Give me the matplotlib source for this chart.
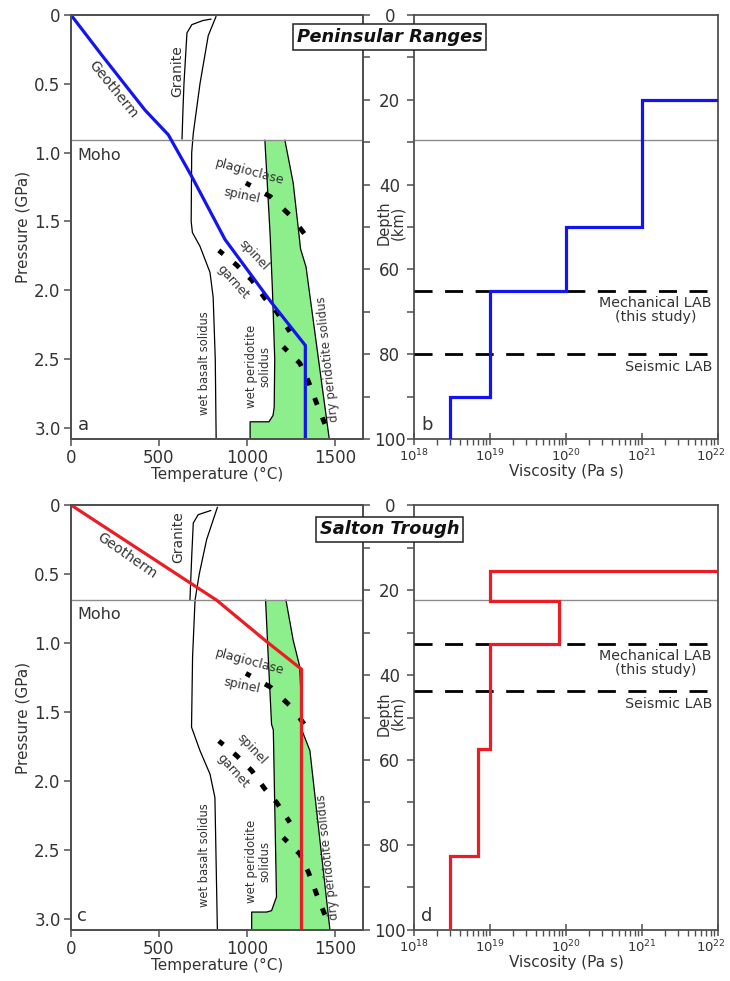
import numpy as np
import matplotlib
matplotlib.use("Agg")
import matplotlib.pyplot as plt
from matplotlib.ticker import FixedLocator, NullFormatter, LogLocator
from matplotlib.transforms import blended_transform_factory, ScaledTranslation

plt.rcParams['font.family'] = ['DejaVu Sans']

# ===================== AXES RANGES =====================
P_MAX = 3.08        # GPa at the bottom of the P-T panels
DEPTH_MAX = 100.0   # km, same bottom on the viscosity panels
T_MAX = 1660

pressure_ticks = [0, 0.5, 1.0, 1.5, 2.0, 2.5, 3.0]
pressure_labels = ["0", "0.5", "1.0", "1.5", "2.0", "2.5", "3.0"]
temp_ticks = [0, 500, 1000, 1500]
depth_ticks = [0, 20, 40, 60, 80, 100]
visc_ticks = [1e18, 1e19, 1e20, 1e21, 1e22]
visc_labels = [r"$10^{18}$", r"$10^{19}$", r"$10^{20}$", r"$10^{21}$", r"$10^{22}$"]

# ===================== PHASE BOUNDARIES (both regions) =====================
plag_sp_T = [994, 1134, 1253, 1339]
plag_sp_P = [1.22, 1.32, 1.465, 1.61]
sp_gt_upper_T = [840, 941, 1027, 1102, 1168, 1244]
sp_gt_upper_P = [1.71, 1.816, 1.925, 2.058, 2.155, 2.30]
sp_gt_lower_T = [1206, 1301, 1349, 1396, 1443]
sp_gt_lower_P = [2.41, 2.53, 2.66, 2.82, 2.97]

# ===================== PENINSULAR RANGES =====================
pr_geotherm_T = [0, 180, 420, 553, 685, 875, 1140, 1332, 1332]
pr_geotherm_P = [0, 0.30, 0.69, 0.87, 1.17, 1.63, 2.09, 2.40, 3.08]
pr_moho_P = 0.91
pr_granite_T = [631, 636, 642, 659, 687, 750, 795]
pr_granite_P = [0.90, 0.70, 0.50, 0.13, 0.07, 0.04, 0.03]
pr_basalt_T = [824, 780, 733, 695, 686, 683, 690, 733, 790, 808, 820, 825]
pr_basalt_P = [0.012, 0.15, 0.50, 0.86, 1.00, 1.50, 1.58, 1.68, 1.87, 2.05, 2.50, 3.08]
pr_wet_per_T = [1102, 1132, 1145, 1158, 1155, 1148, 1125, 1018, 1018]
pr_wet_per_P = [0.91, 1.60, 2.00, 2.50, 2.85, 2.91, 2.955, 2.955, 3.08]
pr_dry_per_T = [1216, 1263, 1292, 1305, 1336, 1468]
pr_dry_per_P = [0.91, 1.22, 1.55, 1.70, 1.83, 3.08]

pr_layer_bottoms = [20, 50, 65, 90, 100]
pr_viscosity = [1e22, 1e21, 1e20, 1e19, 3e18]
pr_mech_lab = 65
pr_seis_lab = 80

# ===================== SALTON TROUGH =====================
st_geotherm_T = [0, 828, 1112, 1310, 1310]
st_geotherm_P = [0, 0.69, 0.99, 1.19, 3.08]
st_moho_P = 0.69
st_granite_T = [676, 686, 695, 723, 794]
st_granite_P = [0.69, 0.375, 0.13, 0.07, 0.04]
st_basalt_T = [832, 771, 729, 705, 691, 685, 733, 790, 818, 832]
st_basalt_P = [0.017, 0.25, 0.50, 0.69, 1.10, 1.61, 1.78, 1.95, 2.12, 3.08]
st_wet_per_T = [1106, 1121, 1140, 1150, 1159, 1168, 1140, 1112, 1027, 1027]
st_wet_per_P = [0.69, 1.10, 1.59, 1.63, 2.24, 2.84, 2.94, 2.95, 2.95, 3.08]
st_dry_per_T = [1222, 1263, 1300, 1308, 1312, 1358, 1472]
st_dry_per_P = [0.69, 0.98, 1.17, 1.40, 1.63, 1.78, 3.08]

st_layer_bottoms = [15.6, 22.5, 32.6, 57.5, 82.5, 100]
st_viscosity = [1e22, 1e19, 8e19, 1e19, 7e18, 3e18]
st_mech_lab = 32.6
st_seis_lab = 43.8

# ===================== STYLE =====================
SPINE = "#505050"
TEXT = "#333333"
GREEN = "#8cef8c"
BLUE = "#1414f0"
RED = "#ec1c24"
MOHO = "#8c8c8c"
TICK_FS = 12
LABEL_FS = 10.5


def style_spines(ax):
    for s in ax.spines.values():
        s.set_color(SPINE)
        s.set_linewidth(1.3)


def draw_pt_panel(ax, geo_T, geo_P, geo_color, moho_P, gran_T, gran_P,
                  bas_T, bas_P, wet_T, wet_P, dry_T, dry_P, letter, txt):
    # peridotite melting field between wet and dry solidi
    poly_T = list(wet_T) + list(dry_T[::-1])
    poly_P = list(wet_P) + list(dry_P[::-1])
    ax.fill(poly_T, poly_P, color=GREEN, lw=0, zorder=1)
    ax.plot(wet_T, wet_P, color="k", lw=0.9, zorder=2)
    ax.plot(dry_T, dry_P, color="k", lw=0.9, zorder=2)

    ax.plot(gran_T, gran_P, color="k", lw=0.9, zorder=2)
    ax.plot(bas_T, bas_P, color="k", lw=0.9, zorder=2)

    dash_kw = dict(color="k", lw=3.5, solid_capstyle="butt", dash_capstyle="butt", zorder=3)
    ax.plot(plag_sp_T, plag_sp_P, linestyle=(0.5, (1.6, 3.4)), **dash_kw)
    ax.plot(sp_gt_upper_T, sp_gt_upper_P, linestyle=(0.3, (1.5, 2.8)), **dash_kw)
    ax.plot(sp_gt_lower_T, sp_gt_lower_P, linestyle=(0.3, (1.5, 2.8)), **dash_kw)

    ax.axhline(moho_P, color=MOHO, lw=1.0, zorder=2)
    ax.plot(geo_T, geo_P, color=geo_color, lw=2.3, zorder=4, solid_joinstyle="miter")

    ax.set_xlim(0, T_MAX)
    ax.set_ylim(P_MAX, 0)
    ax.set_xticks(temp_ticks)
    ax.set_xticklabels([str(t) for t in temp_ticks])
    ax.set_yticks(pressure_ticks)
    ax.set_yticklabels(pressure_labels)
    ax.tick_params(direction="out", length=5, width=1.1, color=SPINE,
                   labelsize=TICK_FS, labelcolor=TEXT, pad=2.5)
    ax.set_xlabel("Temperature (\u00b0C)", fontsize=LABEL_FS + 0.5, color=TEXT, labelpad=0)
    ax.set_ylabel("Pressure (GPa)", fontsize=LABEL_FS + 0.5, color=TEXT, labelpad=3)
    style_spines(ax)

    ax.text(0.022, 0.012, letter, transform=ax.transAxes, fontsize=13,
            color=TEXT, ha="left", va="bottom")
    for s, (T, P, rot, fs) in txt.items():
        ax.text(T, P, s.strip(), rotation=rot, fontsize=fs, color=TEXT, ha="center",
                va="center", rotation_mode="anchor", linespacing=0.95,
                multialignment="center", zorder=5)

    # depth scale on the right-hand spine
    tw = ax.twinx()
    tw.set_ylim(DEPTH_MAX, 0)
    tw.set_yticks(depth_ticks)
    tw.yaxis.set_minor_locator(FixedLocator(np.arange(10, 100, 20)))
    tw.tick_params(which="both", direction="out", length=5, width=1.1,
                   color=SPINE, labelright=False)
    style_spines(tw)


def draw_visc_panel(ax, bottoms, visc, color, moho_P, mech, seis, letter):
    xs, ys = [visc[0]], [bottoms[0]]
    for i in range(1, len(visc)):
        xs += [visc[i], visc[i]]
        ys += [bottoms[i - 1], bottoms[i]]

    ax.axhline(moho_P * DEPTH_MAX / P_MAX, color=MOHO, lw=1.0, zorder=2)
    for d in (mech, seis):
        ax.axhline(d, color="k", lw=2.0, linestyle=(0, (6.5, 4.5)), zorder=3)
    ax.plot(xs, ys, color=color, lw=2.3, zorder=4, solid_joinstyle="miter")

    mixed = blended_transform_factory(ax.transAxes, ax.transData)
    ax.text(0.98, mech + 1.3, "Mechanical LAB\n(this study)", transform=mixed,
            ha="right", va="top", multialignment="center", fontsize=10.3,
            color=TEXT, linespacing=1.0)
    ax.text(0.98, seis + 1.3, "Seismic LAB", transform=mixed,
            ha="right", va="top", fontsize=10.3, color=TEXT)

    ax.set_xscale("log")
    ax.set_xlim(visc_ticks[0], visc_ticks[-1])
    ax.set_ylim(DEPTH_MAX, 0)
    ax.set_xticks(visc_ticks)
    ax.set_xticklabels(visc_labels)
    ax.xaxis.set_minor_locator(LogLocator(base=10, subs=np.arange(2, 10)))
    ax.xaxis.set_minor_formatter(NullFormatter())
    ax.tick_params(axis="x", which="major", direction="inout", length=8, width=1.1,
                   color=SPINE, labelsize=9.5, labelcolor=TEXT, pad=2)
    ax.tick_params(axis="x", which="minor", direction="out", length=4, width=1.0, color=SPINE)
    ax.set_yticks(depth_ticks)
    ax.yaxis.set_minor_locator(FixedLocator(np.arange(10, 100, 20)))
    ax.tick_params(axis="y", which="both", direction="out", length=5, width=1.1,
                   color=SPINE, labelsize=TICK_FS, labelcolor=TEXT, pad=12.5)
    for lab in ax.get_yticklabels():
        lab.set_horizontalalignment("center")
    # nudge the last decade label so it stays inside the figure
    last = ax.get_xticklabels()[-1]
    last.set_transform(last.get_transform() + ScaledTranslation(-5 / 72, 0, fig.dpi_scale_trans))
    ax.set_xlabel("Viscosity (Pa s)", fontsize=LABEL_FS + 0.5, color=TEXT, labelpad=0)
    style_spines(ax)

    ax.text(0.023, 0.012, letter, transform=ax.transAxes, fontsize=13,
            color=TEXT, ha="left", va="bottom")
    ax.text(-0.076, 49, "Depth\n(km)", transform=mixed,
            rotation=90, ha="center", va="center", fontsize=LABEL_FS, color=TEXT,
            linespacing=0.9)


fig = plt.figure(figsize=(7.3, 9.81), dpi=100)
ax_a = fig.add_axes([0.0973, 0.5525, 0.4000, 0.4322])
ax_b = fig.add_axes([0.5671, 0.5525, 0.4164, 0.4322])
ax_c = fig.add_axes([0.0973, 0.0520, 0.4000, 0.4332])
ax_d = fig.add_axes([0.5671, 0.0520, 0.4164, 0.4332])

pr_text = {
    "Geotherm": (239, 0.54, -51, 10),
    "Granite": (602, 0.41, 90, 10),
    "plagioclase": (1017, 1.14, -15, 9),
    "spinel ": (970, 1.31, -12, 9),
    "spinel": (1036, 1.745, -47, 9),
    "garnet": (922, 1.94, -48, 9),
    "wet basalt solidus": (756, 2.53, 90, 8.3),
    "wet peridotite\nsolidus": (1064, 2.55, 90, 8.5),
    "dry peridotite solidus": (1462, 2.50, 96, 8.5),
}
st_text = {
    "Geotherm": (316, 0.37, -35, 10),
    "Granite": (610, 0.235, 90, 10),
    "plagioclase": (1017, 1.14, -15, 9),
    "spinel ": (970, 1.31, -12, 9),
    "spinel": (1026, 1.767, -47, 9),
    "garnet": (922, 1.925, -48, 9),
    "wet basalt solidus": (756, 2.54, 90, 8.3),
    "wet peridotite\nsolidus": (1064, 2.58, 90, 8.5),
    "dry peridotite solidus": (1462, 2.55, 96, 8.5),
}

draw_pt_panel(ax_a, pr_geotherm_T, pr_geotherm_P, BLUE, pr_moho_P,
              pr_granite_T, pr_granite_P, pr_basalt_T, pr_basalt_P,
              pr_wet_per_T, pr_wet_per_P, pr_dry_per_T, pr_dry_per_P, "a", pr_text)
draw_pt_panel(ax_c, st_geotherm_T, st_geotherm_P, RED, st_moho_P,
              st_granite_T, st_granite_P, st_basalt_T, st_basalt_P,
              st_wet_per_T, st_wet_per_P, st_dry_per_T, st_dry_per_P, "c", st_text)
ax_a.text(38, pr_moho_P + 0.11, "Moho", fontsize=11.5, color=TEXT, ha="left", va="center")
ax_c.text(38, st_moho_P + 0.10, "Moho", fontsize=11.5, color=TEXT, ha="left", va="center")

draw_visc_panel(ax_b, pr_layer_bottoms, pr_viscosity, BLUE, pr_moho_P,
                pr_mech_lab, pr_seis_lab, "b")
draw_visc_panel(ax_d, st_layer_bottoms, st_viscosity, RED, st_moho_P,
                st_mech_lab, st_seis_lab, "d")

box = dict(boxstyle="square,pad=0.22", fc="white", ec="#222222", lw=1.1)
fig.text(389.5 / 730, 1 - 37 / 981, "Peninsular Ranges", fontsize=12.8,
         fontweight="bold", fontstyle="italic", ha="center", va="center",
         color="#111111", bbox=box, zorder=10)
fig.text(389.5 / 730, 1 - 529.5 / 981, "Salton Trough", fontsize=12.8,
         fontweight="bold", fontstyle="italic", ha="center", va="center",
         color="#111111", bbox=box, zorder=10)

fig.savefig("out.png", dpi=100)
